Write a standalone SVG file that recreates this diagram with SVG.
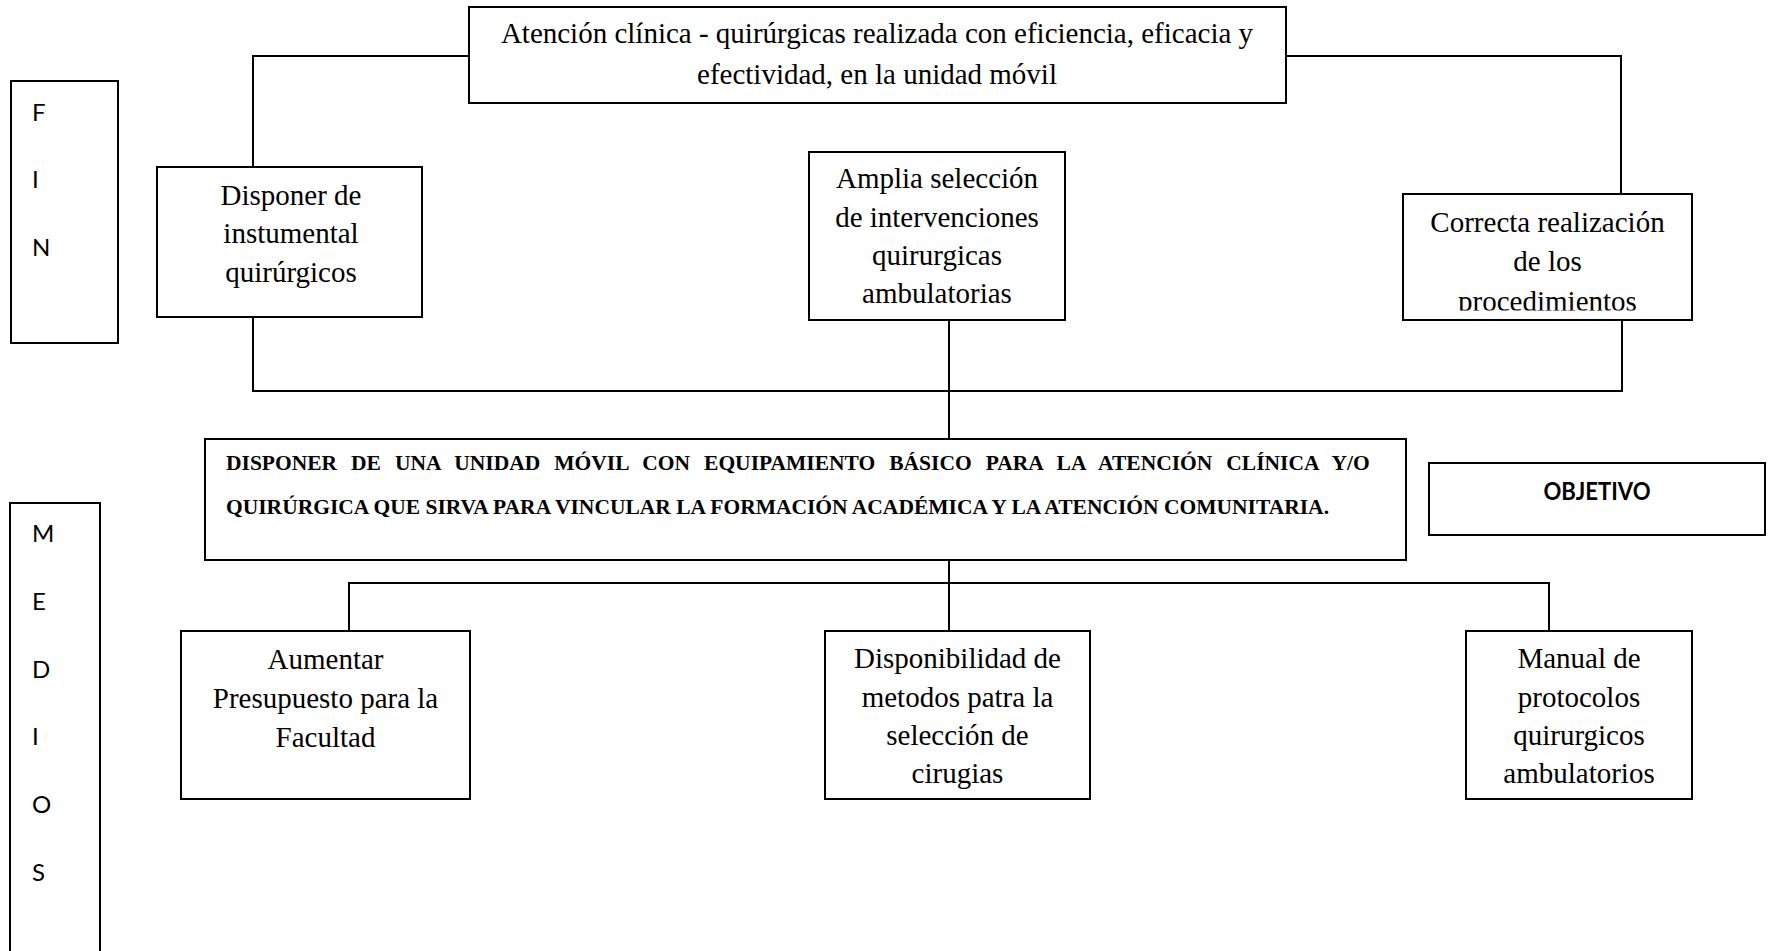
<svg xmlns="http://www.w3.org/2000/svg" width="1777" height="951" viewBox="0 0 1777 951">
<style>
.box{fill:#fff;stroke:#000;stroke-width:2}
.con{fill:none;stroke:#000;stroke-width:2}
.t{font-family:"Liberation Serif","Times New Roman",serif;font-size:29px;fill:#000;text-anchor:middle}
.obj{font-family:"Liberation Serif","Times New Roman",serif;font-size:21.5px;font-weight:bold;fill:#000}
.lt{font-family:Lato,"Liberation Sans",sans-serif;font-size:24px;fill:#000}
.lb{font-family:Lato,"Liberation Sans",sans-serif;font-size:24px;font-weight:bold;fill:#000;text-anchor:middle}
</style>
<defs>
<clipPath id="clipCorrecta"><rect x="1404" y="195" width="287" height="115.5"/></clipPath>
<clipPath id="clipDispon"><rect x="826" y="632" width="263" height="157"/></clipPath>
</defs>
<rect width="1777" height="951" fill="#fff"/>
<g id="connectors">
<path class="con" d="M469 56H253V167"/>
<path class="con" d="M1286 56H1621V194"/>
<path class="con" d="M253 317V391H1622V320"/>
<path class="con" d="M949 320V439"/>
<path class="con" d="M949 560V631"/>
<path class="con" d="M349 631V583H1549V631"/>
</g>
<g id="fin">
<rect class="box" x="11" y="81" width="107" height="262"/>
<text class="lt" x="32" y="121">F</text>
<text class="lt" x="32" y="188">I</text>
<text class="lt" x="32" y="256">N</text>
</g>
<g id="medios">
<rect class="box" x="10" y="503" width="90" height="480"/>
<text class="lt" x="32" y="542">M</text>
<text class="lt" x="32" y="610">E</text>
<text class="lt" x="32" y="678">D</text>
<text class="lt" x="32" y="745">I</text>
<text class="lt" x="32" y="813">O</text>
<text class="lt" x="32" y="881">S</text>
</g>
<g id="fin-top">
<rect class="box" x="469" y="7" width="817" height="96"/>
<text class="t" x="877" y="43">Atención clínica - quirúrgicas realizada con eficiencia, eficacia y</text>
<text class="t" x="877" y="84">efectividad, en la unidad móvil</text>
</g>
<g id="disponer-instrumental">
<rect class="box" x="157" y="167" width="265" height="150"/>
<text class="t" x="291" y="205">Disponer de</text>
<text class="t" x="291" y="243">instumental</text>
<text class="t" x="291" y="282">quirúrgicos</text>
</g>
<g id="amplia-seleccion">
<rect class="box" x="809" y="152" width="256" height="168"/>
<text class="t" x="937" y="188">Amplia selección</text>
<text class="t" x="937" y="227">de intervenciones</text>
<text class="t" x="937" y="265">quirurgicas</text>
<text class="t" x="937" y="303">ambulatorias</text>
</g>
<g id="correcta-realizacion">
<rect class="box" x="1403" y="194" width="289" height="126"/>
<g clip-path="url(#clipCorrecta)">
<text class="t" x="1547.5" y="232">Correcta realización</text>
<text class="t" x="1547.5" y="271">de los</text>
<text class="t" x="1547.5" y="311">procedimientos</text>
</g>
</g>
<g id="objetivo-central">
<rect class="box" x="205" y="439" width="1201" height="121"/>
<text class="obj" x="226" y="470" word-spacing="8.6">DISPONER DE UNA UNIDAD MÓVIL CON EQUIPAMIENTO BÁSICO PARA LA ATENCIÓN CLÍNICA Y/O</text>
<text class="obj" x="226" y="514">QUIRÚRGICA QUE SIRVA PARA VINCULAR LA FORMACIÓN ACADÉMICA Y LA ATENCIÓN COMUNITARIA.</text>
</g>
<g id="objetivo-label">
<rect class="box" x="1429" y="463" width="336" height="72"/>
<text class="lb" x="1597" y="500" textLength="107" lengthAdjust="spacingAndGlyphs">OBJETIVO</text>
</g>
<g id="aumentar-presupuesto">
<rect class="box" x="181" y="631" width="289" height="168"/>
<text class="t" x="325.5" y="669">Aumentar</text>
<text class="t" x="325.5" y="708">Presupuesto para la</text>
<text class="t" x="325.5" y="747">Facultad</text>
</g>
<g id="disponibilidad-metodos">
<rect class="box" x="825" y="631" width="265" height="168"/>
<g clip-path="url(#clipDispon)">
<text class="t" x="957.5" y="668">Disponibilidad de</text>
<text class="t" x="957.5" y="707">metodos patra la</text>
<text class="t" x="957.5" y="745">selección de</text>
<text class="t" x="957.5" y="783">cirugias</text>
</g>
</g>
<g id="manual-protocolos">
<rect class="box" x="1466" y="631" width="226" height="168"/>
<text class="t" x="1579" y="668">Manual de</text>
<text class="t" x="1579" y="707">protocolos</text>
<text class="t" x="1579" y="745">quirurgicos</text>
<text class="t" x="1579" y="783">ambulatorios</text>
</g>
</svg>
